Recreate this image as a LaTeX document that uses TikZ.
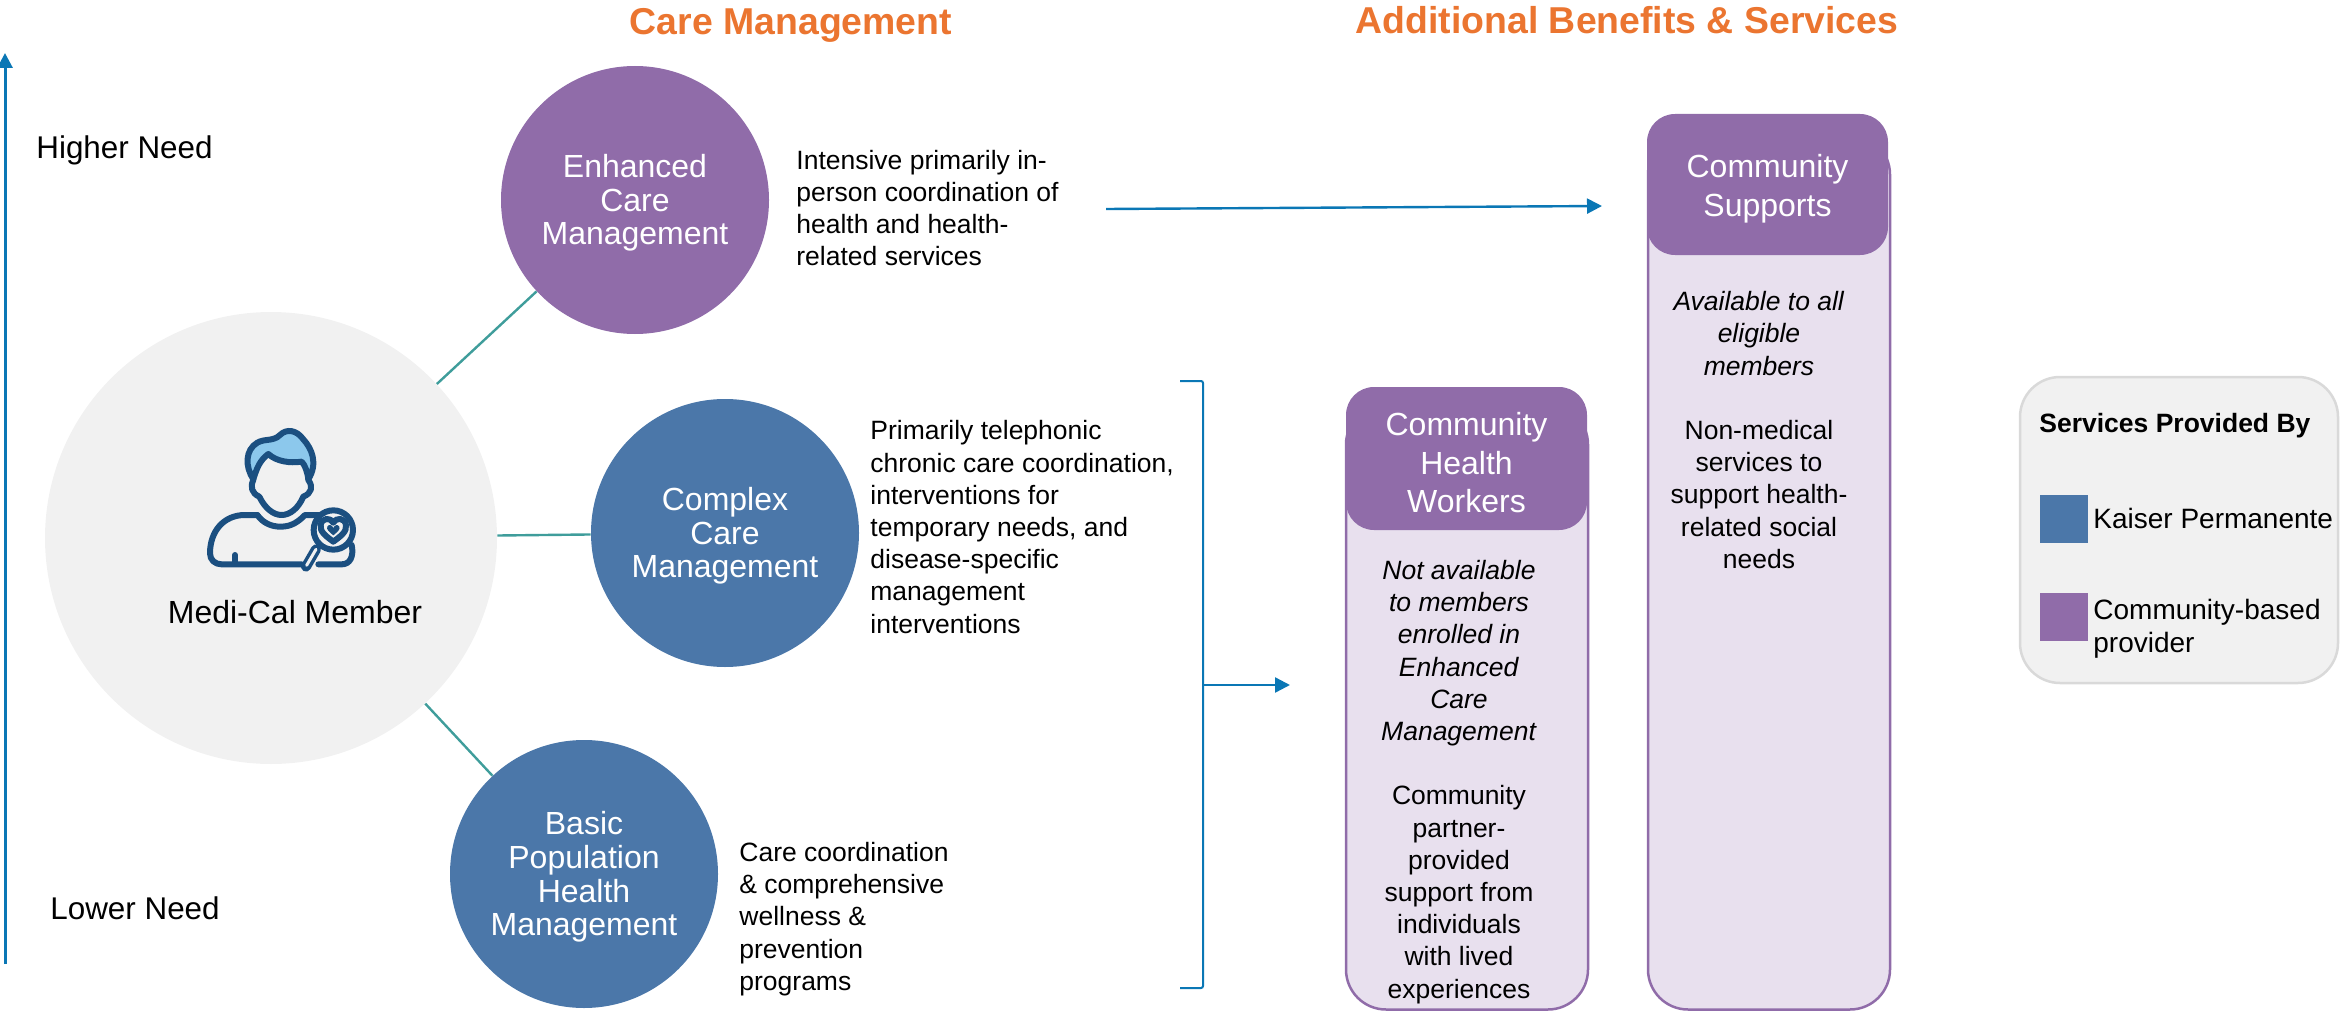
\documentclass[tikz,border=0pt]{standalone}
\usepackage{fontspec}
\setmainfont{Liberation Sans}
\usetikzlibrary{arrows.meta}
\definecolor{kpblue}{HTML}{4B77A9}
\definecolor{cbpurple}{HTML}{906CA9}
\definecolor{cblight}{HTML}{E8E0EE}
\definecolor{linkteal}{HTML}{3F9D9B}
\definecolor{arrowblue}{HTML}{0A77B5}
\definecolor{softgrey}{HTML}{F1F1F1}
\definecolor{edgegrey}{HTML}{D9D9D9}
\definecolor{titleorange}{HTML}{EB7530}
\definecolor{icondark}{HTML}{1B4F80}
\definecolor{iconhair}{HTML}{8CC8EC}
\newcommand{\ballstrut}{\rule{0pt}{14.7pt}}
\newcommand{\headstrut}{\rule{0pt}{15.7pt}}
\tikzset{
    careball/.style={circle,minimum size=134pt,inner sep=0pt,text=white,align=center,
        font=\fontsize{16}{16.8}\selectfont},
    boxbody/.style={rectangle,rounded corners=20pt,fill=cblight,draw=cbpurple,line width=1.25pt,minimum width=121pt},
    boxhead/.style={rectangle,rounded corners=14pt,fill=cbpurple,text=white,align=center,inner sep=0pt,
        minimum width=120.5pt,font=\fontsize{16}{19.2}\selectfont},
    blurb/.style={inner sep=0pt,align=left,anchor=west,font=\fontsize{13.25}{16.1}\selectfont},
    keytext/.style={inner sep=0pt,align=left,anchor=west,font=\fontsize{14}{16.3}\selectfont},
    boxblurb/.style={inner sep=0pt,align=center,font=\fontsize{13.25}{16.1}\selectfont},
    needlabel/.style={inner sep=0pt,font=\fontsize{15.7}{18}\selectfont},
    headline/.style={inner sep=0pt,text=titleorange,font=\bfseries\fontsize{18.7}{22}\selectfont},
    keysquare/.style={rectangle,minimum size=24pt,inner sep=0pt},
    linkline/.style={draw=linkteal,line width=1.2pt},
    flowline/.style={draw=arrowblue,line width=1.2pt,-{Triangle[length=7.5pt,width=7.5pt]}},
    iconline/.style={draw=icondark,line width=3pt,line cap=round,line join=round}
}
\begin{document}
\begin{tikzpicture}[x=0.5pt,y=-0.5pt]
    \useasboundingbox (0,0) rectangle (2341,1011);
    % titles
    \node[headline] (caretitle) at (791,25) {Care Management};
    \node[headline] (benefittitle) at (1627,20) {Additional Benefits \& Services};
    % need axis
    \coordinate (axislow) at (5,964);
    \coordinate (axishigh) at (5,53);
    \draw[flowline,line width=1.5pt] (axislow) -- (axishigh);
    \node[needlabel,anchor=west] (higher) at (36,150) {Higher Need};
    \node[needlabel,anchor=west] (lower) at (50,908) {Lower Need};
    % member and the three levels
    \node[circle,fill=softgrey,minimum size=226pt,inner sep=0pt] (member) at (271,538) {};
    \node[inner sep=0pt,font=\fontsize{16}{18}\selectfont] (membertext) at (295,612) {Medi-Cal Member};
    \node[careball,fill=cbpurple] (enhanced) at (635,200) {\ballstrut Enhanced\\Care\\Management};
    \node[careball,fill=kpblue] (complex) at (725,533) {\ballstrut Complex\\Care\\Management};
    \node[careball,fill=kpblue] (basic) at (584,874) {\ballstrut Basic\\Population\\Health\\Management};
    \foreach \X in {enhanced,complex,basic}
        {\draw[linkline] (member) -- (\X);}
    \node[blurb] (enhancedtext) at (796,208) {Intensive primarily in-\\person coordination of\\health and health-\\related services};
    \node[blurb] (complextext) at (870,527) {Primarily telephonic\\chronic care coordination,\\interventions for\\temporary needs, and\\disease-specific\\management\\interventions};
    \node[blurb] (basictext) at (739,919) {Care coordination\\\& comprehensive\\wellness \&\\prevention\\programs};
    % person icon
    \begin{scope}[shift={(170,400)},scale=1/3]
        \draw[iconline,fill=iconhair] (250,238) .. controls (225,200) and (225,150) .. (262,128)
            .. controls (285,115) and (310,125) .. (330,105) .. controls (350,85) and (380,90) .. (400,118)
            .. controls (425,145) and (445,190) .. (415,238)
            .. controls (412,215) and (405,195) .. (395,185) .. controls (360,190) and (320,185) .. (295,162)
            .. controls (270,180) and (260,205) .. (250,238);
        \draw[iconline] (250,240) .. controls (240,260) and (245,280) .. (268,290)
            .. controls (285,325) and (310,345) .. (335,345) .. controls (360,345) and (385,325) .. (400,290)
            .. controls (425,280) and (430,260) .. (415,240);
        \draw[iconline] (262,345) .. controls (280,370) and (305,380) .. (332,380) .. controls (365,380) and (385,365) .. (405,345) -- (450,345);
        \draw[iconline] (262,345) -- (225,345) .. controls (160,345) and (120,395) .. (120,460)
            .. controls (120,480) and (135,493) .. (155,493) -- (395,493);
        \draw[iconline] (195,465) -- (195,490);
        \draw[iconline] (445,493) -- (515,493) .. controls (540,493) and (552,470) .. (545,435);
        \draw[draw=icondark,line width=5pt,line cap=round] (438,448) -- (408,500);
        \draw[draw=softgrey,line width=1.5pt,line cap=round] (438,448) -- (410,496);
        \draw[iconline,fill=softgrey] (490,390) circle (59);
        \draw[iconline] (490,425) .. controls (470,410) and (448,395) .. (452,375) .. controls (456,352) and (482,352) .. (490,368)
            .. controls (498,352) and (524,352) .. (528,375) .. controls (532,395) and (510,410) .. (490,425);
        \fill[icondark] (490,406) .. controls (478,396) and (468,388) .. (472,380) .. controls (476,372) and (486,374) .. (490,384)
            .. controls (494,374) and (504,372) .. (508,380) .. controls (512,388) and (502,396) .. (490,406);
    \end{scope}
    % flows to the benefit boxes
    \coordinate (flowstart) at (1106,209);
    \coordinate (flowend) at (1602,206);
    \draw[flowline] (flowstart) -- (flowend);
    \coordinate (brackettop) at (1180,381);
    \coordinate (bracketbot) at (1180,988);
    \coordinate (bracketmid) at (1203,685);
    \coordinate (bracketend) at (1290,685);
    \draw[draw=arrowblue,line width=1pt,rounded corners=1pt] (brackettop) -- (1203,381) -- (1203,988) -- (bracketbot);
    \draw[flowline] (bracketmid) -- (bracketend);
    % community health workers
    \node[boxbody,minimum height=302.5pt] (chwbody) at (1467,707) {};
    \node[boxhead,minimum height=71.5pt] (chwhead) at (1466.5,458.5) {\headstrut Community\\Health\\Workers};
    \node[boxblurb] (chwtext) at (1459,782) {\textit{Not available}\\\textit{to members}\\\textit{enrolled in}\\\textit{Enhanced}\\\textit{Care}\\\textit{Management}\\[16.1pt]Community\\partner-\\provided\\support from\\individuals\\with lived\\experiences};
    % community supports
    \node[boxbody,minimum height=437.5pt] (csbody) at (1769,572) {};
    \node[boxhead,minimum height=70.5pt] (cshead) at (1767.5,184.5) {\headstrut Community\\Supports};
    \node[boxblurb] (cstext) at (1759,430) {\textit{Available to all}\\\textit{eligible}\\\textit{members}\\[16.1pt]Non-medical\\services to\\support health-\\related social\\needs};
    % legend
    \node[rectangle,rounded corners=20pt,fill=softgrey,draw=edgegrey,line width=1.25pt,minimum width=159pt,minimum height=153pt] (legend) at (2179,530) {};
    \node[inner sep=0pt,anchor=west,font=\bfseries\fontsize{13.25}{16}\selectfont] (legendtitle) at (2039,426) {Services Provided By};
    \node[keysquare,fill=kpblue] (kpkey) at (2064,519) {};
    \node[keysquare,fill=cbpurple] (cbkey) at (2064,617) {};
    \node[keytext] (kptext) at (2093,518) {Kaiser Permanente};
    \node[keytext] (cbtext) at (2093,629) {Community-based\\provider};
\end{tikzpicture}
\end{document}
